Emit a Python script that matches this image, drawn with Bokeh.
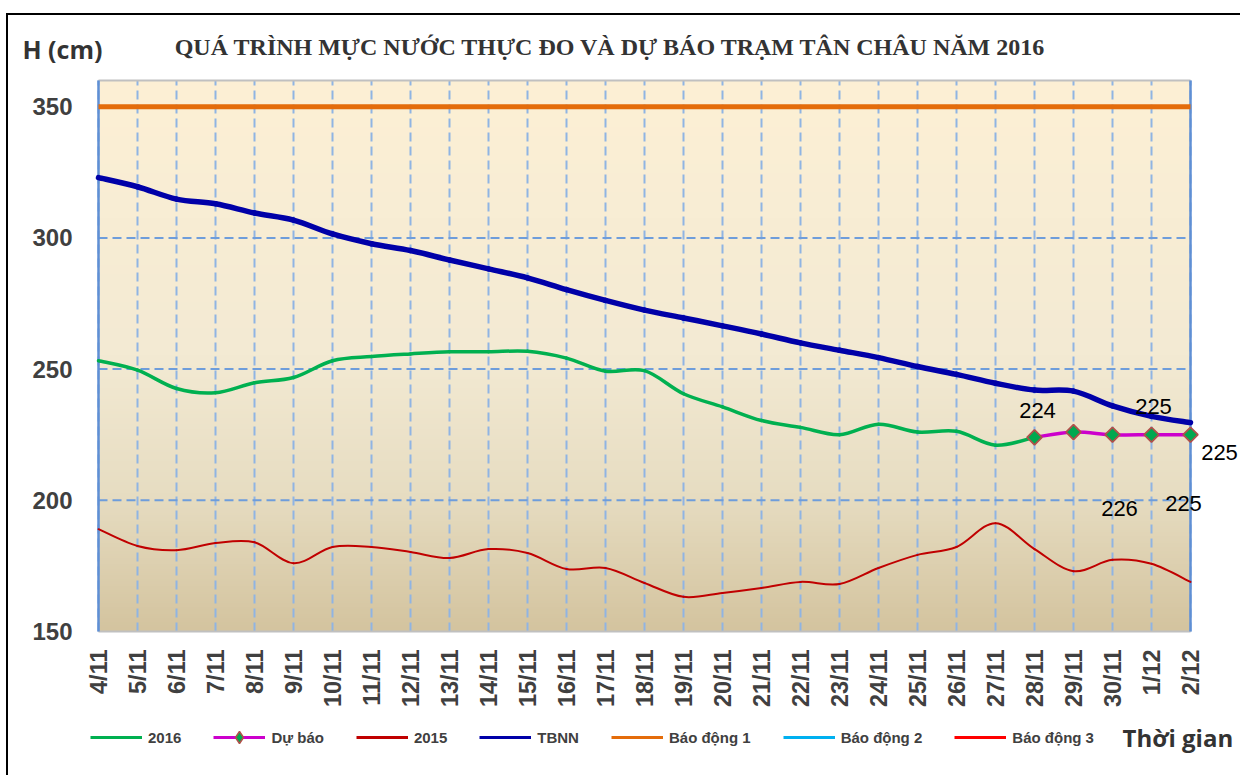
import numpy as np
from bokeh.plotting import figure
from bokeh.models import Range1d, FixedTicker, Label, Legend, LegendItem
from bokeh.embed import file_html
from bokeh.resources import INLINE

# ---------------- data ----------------
dates = ["4/11", "5/11", "6/11", "7/11", "8/11", "9/11", "10/11", "11/11", "12/11",
         "13/11", "14/11", "15/11", "16/11", "17/11", "18/11", "19/11", "20/11",
         "21/11", "22/11", "23/11", "24/11", "25/11", "26/11", "27/11", "28/11",
         "29/11", "30/11", "1/12", "2/12"]

h2016 = [253.2, 249.6, 242.6, 241.0, 244.8, 246.8, 253.2, 254.8, 255.8, 256.6,
         256.6, 256.8, 254.2, 249.2, 249.4, 240.6, 235.6, 230.4, 227.8, 225.0,
         229.0, 226.0, 226.3, 221.0, 224.0]

forecast_dates = ["28/11", "29/11", "30/11", "1/12", "2/12"]
forecast = [224, 226, 225, 225, 225]

h2015 = [189.0, 182.6, 181.0, 183.7, 184.0, 176.0, 182.2, 182.2, 180.3, 178.0,
         181.4, 179.9, 173.8, 174.2, 168.5, 163.2, 164.7, 166.6, 168.9, 168.1,
         174.2, 179.2, 182.2, 191.3, 181.4, 173.0, 177.3, 175.8, 168.9]

tbnn = [323.0, 319.5, 314.8, 313.0, 309.5, 306.8, 301.5, 297.8, 295.2, 291.6,
        288.2, 284.8, 280.3, 276.2, 272.5, 269.5, 266.5, 263.4, 260.0, 257.2,
        254.4, 251.0, 248.0, 244.6, 242.0, 241.6, 236.0, 232.0, 229.6]

alarm1 = 350
y_ticks = [150, 200, 250, 300, 350]
y_min, y_max = 150, 360

title_text = "QUÁ TRÌNH MỰC NƯỚC THỰC ĐO VÀ DỰ BÁO TRẠM TÂN CHÂU NĂM 2016"
y_title = "H (cm)"
x_title = "Thời gian"

# ---------------- layout geometry (pixels) ----------------
W, Hc = 1240, 775
plot_left, plot_right, plot_top, plot_bottom = 98, 1190, 80, 631

idx = {d: i for i, d in enumerate(dates)}
n = len(dates)
xpx = (plot_right - plot_left) / (n - 1)
ypx = (plot_bottom - plot_top) / (y_max - y_min)
x_range = Range1d(-plot_left / xpx, (n - 1) + (W - plot_right) / xpx)
y_range = Range1d(y_min - (Hc - plot_bottom) / ypx, y_max + plot_top / ypx)


def smooth(p, xs, ys, **kw):
    xs = np.asarray(xs, float)
    ys = np.asarray(ys, float)
    m = len(xs)
    x0, y0, x1, y1, cx0, cy0, cx1, cy1 = ([] for _ in range(8))
    for i in range(m - 1):
        a = i - 1 if i > 0 else i
        b = i + 2 if i + 2 < m else i + 1
        x0.append(xs[i]); y0.append(ys[i])
        x1.append(xs[i + 1]); y1.append(ys[i + 1])
        cx0.append(xs[i] + (xs[i + 1] - xs[a]) / 6.0)
        cy0.append(ys[i] + (ys[i + 1] - ys[a]) / 6.0)
        cx1.append(xs[i + 1] - (xs[b] - xs[i]) / 6.0)
        cy1.append(ys[i + 1] - (ys[b] - ys[i]) / 6.0)
    return p.bezier(x0=x0, y0=y0, x1=x1, y1=y1, cx0=cx0, cy0=cy0, cx1=cx1, cy1=cy1,
                    line_cap="round", **kw)


# ---------------- figure ----------------
p = figure(width=W, height=Hc, output_backend="svg", toolbar_location=None,
           x_range=x_range, y_range=y_range,
           min_border=0, min_border_left=0, min_border_right=0,
           min_border_top=0, min_border_bottom=0)
p.background_fill_color = None
p.border_fill_color = None
p.outline_line_color = None
p.styles = {
    "background-color": "white",
    "background-image": "linear-gradient(black, black), linear-gradient(black, black)",
    "background-size": "2px 100%, 100% 2px",
    "background-position": "6px 13px, 6px 13px",
    "background-repeat": "no-repeat",
}
p.xgrid.visible = False
p.ygrid.visible = False

# background gradient of the plot area
GH = 256
stops_t = [0.0, 0.25, 0.5, 1.0]
stops_c = np.array([[212, 196, 159], [231, 221, 194], [243, 234, 211], [253, 240, 213]], float)
t = np.linspace(0, 1, GH)
cols = np.stack([np.interp(t, stops_t, stops_c[:, k]) for k in range(3)], axis=1)
img = np.empty((GH, 1), dtype=np.uint32)
view = img.view(dtype=np.uint8).reshape((GH, 1, 4))
view[:, 0, 0] = cols[:, 0]
view[:, 0, 1] = cols[:, 1]
view[:, 0, 2] = cols[:, 2]
view[:, 0, 3] = 255
bg = p.image_rgba(image=[img], x=0, y=y_min, dw=n - 1, dh=y_max - y_min)
bg.level = "image"

# axes fixed at the plot-area edges
for ax in (p.xaxis, p.yaxis):
    ax.axis_line_color = None
    ax.major_tick_line_color = None
    ax.minor_tick_line_color = None
    ax.major_tick_out = 0
    ax.minor_tick_out = 0
    ax.major_label_text_font = "Liberation Sans"
    ax.major_label_text_font_style = "bold"
    ax.major_label_text_color = "#404040"

p.yaxis.fixed_location = 0
p.yaxis.bounds = (y_min, y_max)
p.yaxis.ticker = FixedTicker(ticks=y_ticks)
p.yaxis.major_label_text_font_size = "24px"
p.yaxis.major_label_standoff = 26

p.xaxis.fixed_location = y_min
p.xaxis.bounds = (0, n - 1)
p.xaxis.ticker = FixedTicker(ticks=list(range(n)))
p.xaxis.major_label_overrides = {i: d for i, d in enumerate(dates)}
p.xaxis.major_label_orientation = np.pi / 2
p.xaxis.major_label_text_font_size = "23.5px"
p.xaxis.major_label_standoff = 18

# grid lines (plot area only)
xs_all = list(range(n))
vg = p.segment(x0=xs_all, y0=[y_min] * n, x1=xs_all, y1=[y_max] * n,
               line_color="#8fb4e3", line_dash="9 5", line_width=2)
hgt = [v for v in y_ticks if v > y_min]
hg = p.segment(x0=[0] * len(hgt), y0=hgt, x1=[n - 1] * len(hgt), y1=hgt,
               line_color="#6e9ddb", line_dash="9 5", line_width=2)
vg.level = "underlay"
hg.level = "underlay"
# plot-area border
p.segment(x0=[0, 0], y0=[y_min, y_max], x1=[n - 1, n - 1], y1=[y_min, y_max],
          line_color="#c0c0c0", line_width=2)
p.segment(x0=[0, n - 1], y0=[y_min, y_min], x1=[0, n - 1], y1=[y_max, y_max],
          line_color="#5f8fd4", line_width=2.5)

# series
c2016, cfc, c2015, ctb, ca1, ca2, ca3 = ("#00b050", "#cc00cc", "#c00000", "#0000a8",
                                          "#e46c0a", "#00b0f0", "#ff0000")

p.line(xs_all, [alarm1] * n, line_color=ca1, line_width=5)
smooth(p, xs_all, h2015, line_color=c2015, line_width=2)
smooth(p, xs_all, tbnn, line_color=ctb, line_width=5.5)
smooth(p, xs_all[:len(h2016)], h2016, line_color=c2016, line_width=3.5)
fx = [idx[d] for d in forecast_dates]
smooth(p, fx, forecast, line_color=cfc, line_width=3.5)
p.scatter(fx, forecast, marker="square", angle=np.pi / 4, size=10.5,
          fill_color="#00a84f", line_color="#b0504a", line_width=1.8)

# data labels (offsets in screen pixels from each forecast point)
label_dx = [3, 46, 71, 2, 29]
label_dy = [27, -76, -69, 28, -18]
for xv, yv, dx, dy in zip(fx, forecast, label_dx, label_dy):
    p.add_layout(Label(x=xv, y=yv, text=str(yv), x_offset=dx, y_offset=dy,
                       text_align="center", text_baseline="middle",
                       text_font="Liberation Sans", text_font_size="22px",
                       text_color="black"))

# legend proxies (one undrawn NaN point each, so the legend shows their glyphs)
nan_x, nan_y = [0], [float("nan")]
r16 = p.line(nan_x, nan_y, line_color=c2016, line_width=3)
rfl = p.line(nan_x, nan_y, line_color=cfc, line_width=3)
rfm = p.scatter(nan_x, nan_y, marker="diamond", size=15,
                fill_color="#00a84f", line_color="#b0504a", line_width=1.5)
r15 = p.line(nan_x, nan_y, line_color=c2015, line_width=3)
rtb = p.line(nan_x, nan_y, line_color=ctb, line_width=3)
ra1 = p.line(nan_x, nan_y, line_color=ca1, line_width=3)
ra2 = p.line(nan_x, nan_y, line_color=ca2, line_width=3)
ra3 = p.line(nan_x, nan_y, line_color=ca3, line_width=3)

legend = Legend(items=[
    LegendItem(label="2016", renderers=[r16]),
    LegendItem(label="Dự báo", renderers=[rfl, rfm]),
    LegendItem(label="2015", renderers=[r15]),
    LegendItem(label="TBNN", renderers=[rtb]),
    LegendItem(label="Báo động 1", renderers=[ra1]),
    LegendItem(label="Báo động 2", renderers=[ra2]),
    LegendItem(label="Báo động 3", renderers=[ra3]),
], orientation="horizontal", location=(90, 23))
legend.glyph_width = 52
legend.glyph_height = 30
legend.label_height = 30
legend.label_standoff = 6
legend.spacing = 32
legend.padding = 0
legend.margin = 0
legend.border_line_color = None
legend.background_fill_alpha = 0
legend.label_text_font = "Liberation Sans"
legend.label_text_font_style = "bold"
legend.label_text_font_size = "15px"
legend.label_text_color = "#404040"
p.add_layout(legend, "center")

# titles
p.add_layout(Label(x=610, y=46, x_units="canvas", y_units="canvas", text=title_text,
                   text_align="center", text_baseline="middle",
                   text_font="Liberation Serif", text_font_style="bold",
                   text_font_size="24px", text_color="#333333"))
p.add_layout(Label(x=22, y=48, x_units="canvas", y_units="canvas", text=y_title,
                   text_align="left", text_baseline="middle",
                   text_font="Open Sans", text_font_style="bold",
                   text_font_size="25px", text_color="#333333"))
p.add_layout(Label(x=1122, y=737, x_units="canvas", y_units="canvas", text=x_title,
                   text_align="left", text_baseline="middle",
                   text_font="Open Sans", text_font_style="bold",
                   text_font_size="24px", text_color="#333333"))

open("out.html", "w").write(file_html(p, INLINE))
